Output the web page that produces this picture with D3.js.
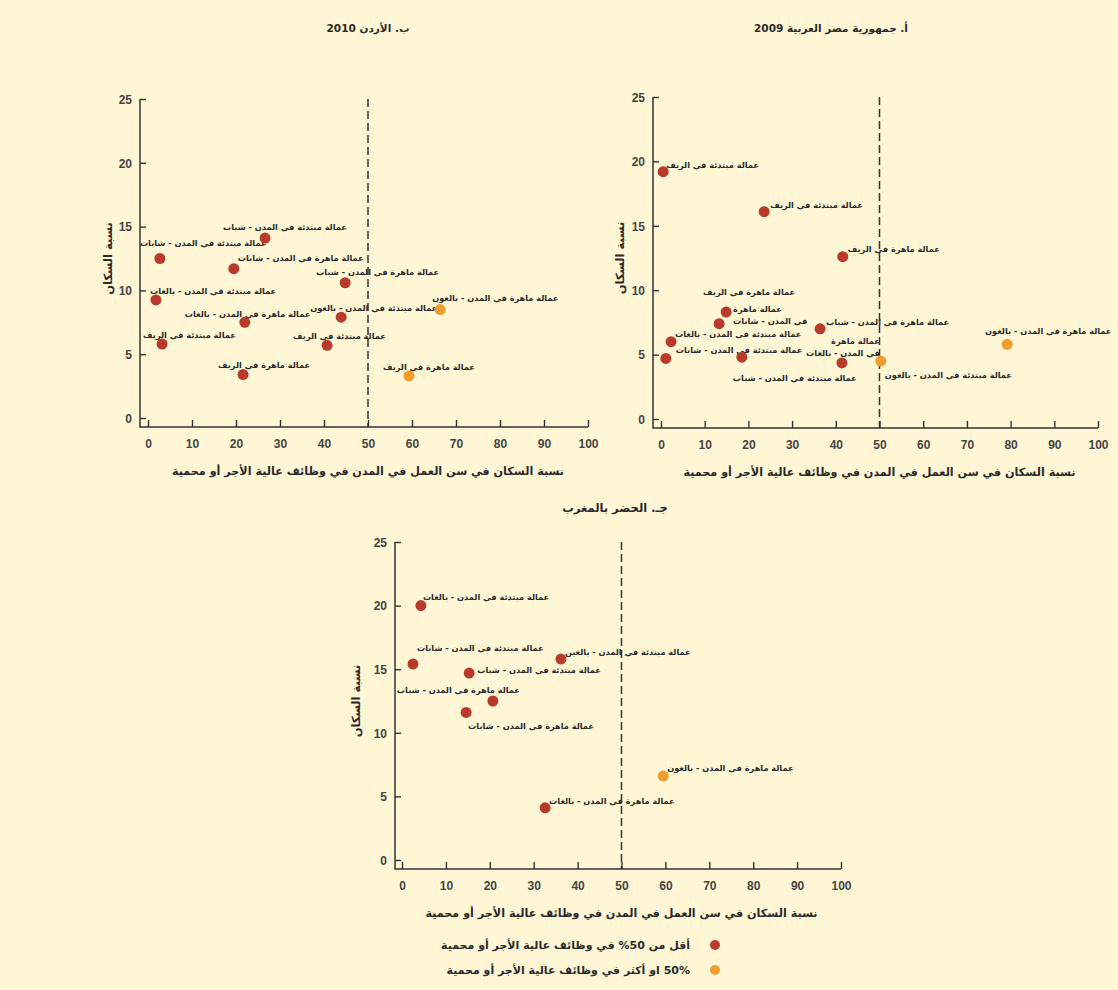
<!DOCTYPE html>
<html>
<head>
<meta charset="utf-8">
<script src="https://cdn.jsdelivr.net/npm/d3@7"></script>
<style>
  body { margin: 0; background: #fff6d5; }
  svg { display: block; }
  .tick text { font-family: "Liberation Sans", Arial, sans-serif; font-size: 12px; font-weight: bold; fill: #444; }
  .tick line { stroke: #333; stroke-width: 1.4; }
  .ar { font-family: "DejaVu Sans", sans-serif; font-weight: bold; fill: #2a2a2a; }
</style>
</head>
<body>
<div id="chart"></div>
<script>
// ---- data ----
var xTicks = [0, 10, 20, 30, 40, 50, 60, 70, 80, 90, 100];
var yTicks = [0, 5, 10, 15, 20, 25];

// أ. مصر 2009
var egyptX = [0.5, 23.6, 41.6, 14.9, 13.3, 2.3, 1.1, 18.5, 36.4, 41.4, 50.3, 79.2];
var egyptY = [19.2, 16.1, 12.6, 8.3, 7.4, 6.0, 4.7, 4.8, 7.0, 4.35, 4.5, 5.8];
var egyptLabels = [
  "عمالة مبتدئة في الريف",
  "عمالة مبتدئة في الريف",
  "عمالة ماهرة في الريف",
  "عمالة ماهرة\nفي المدن - شابات",
  "عمالة ماهرة في الريف",
  "عمالة مبتدئة في المدن - بالغات",
  "عمالة مبتدئة في المدن - شابات",
  "عمالة مبتدئة في المدن - شباب",
  "عمالة ماهرة في المدن - شباب",
  "عمالة ماهرة\nفي المدن - بالغات",
  "عمالة مبتدئة في المدن - بالغون",
  "عمالة ماهرة في المدن - بالغون"
];

// ب. الأردن 2010
var jordanX = [26.6, 2.7, 19.5, 1.8, 22.0, 3.2, 44.8, 43.9, 40.7, 66.4, 59.3, 21.6];
var jordanY = [14.1, 12.5, 11.7, 9.25, 7.5, 5.8, 10.6, 7.9, 5.7, 8.5, 3.3, 3.4];
var jordanLabels = [
  "عمالة مبتدئة في المدن - شباب",
  "عمالة مبتدئة في المدن - شابات",
  "عمالة ماهرة في المدن - شابات",
  "عمالة مبتدئة في المدن - بالغات",
  "عمالة ماهرة في المدن - بالغات",
  "عمالة مبتدئة في الريف",
  "عمالة ماهرة في المدن - شباب",
  "عمالة مبتدئة في المدن - بالغون",
  "عمالة مبتدئة في الريف",
  "عمالة ماهرة في المدن - بالغون",
  "عمالة ماهرة في الريف",
  "عمالة ماهرة في الريف"
];

// جـ. الحضر بالمغرب
var moroccoX = [4.3, 2.5, 15.3, 36.2, 20.7, 14.6, 59.5, 32.6];
var moroccoY = [20.0, 15.4, 14.7, 15.8, 12.5, 11.6, 6.6, 4.1];
var moroccoLabels = [
  "عمالة مبتدئة في المدن - بالغات",
  "عمالة مبتدئة في المدن - شابات",
  "عمالة مبتدئة في المدن - شباب",
  "عمالة مبتدئة في المدن - بالغين",
  "عمالة ماهرة في المدن - شباب",
  "عمالة ماهرة في المدن - شابات",
  "عمالة ماهرة في المدن - بالغون",
  "عمالة ماهرة في المدن - بالغات"
];

var legendLabels = [
  "أقل من 50% في وظائف عالية الأجر أو محمية",
  "50% او أكثر في وظائف عالية الأجر أو محمية"
];
var threshold = 50;

// ---- label placement (pixels from the point: dx, dy, which edge sits at dx) ----
var egyptPlace = [[3,-7,"L"],[6,-7,"L"],[5,-8,"L"],[7,-3,"L"],[-16,-32,"L"],[4,-8,"L"],
                  [10,-8,"L"],[-9,21,"L"],[6,-7,"L"],[38,-22,"R"],[4,14,"L"],[-22,-13,"L"]];
var jordanPlace = [[-42,-11,"L"],[-20,-15,"L"],[4,-11,"L"],[-6,-9,"L"],[-60,-8,"L"],[-19,-9,"L"],
                   [-29,-11,"L"],[-31,-9,"L"],[-34,-9,"L"],[-8,-11,"L"],[-26,-9,"L"],[-25,-9,"L"]];
var moroccoPlace = [[2,-8,"L"],[4,-16,"L"],[8,-3,"L"],[4,-7,"L"],[-96,-11,"L"],[2,14,"L"],[4,-8,"L"],[4,-7,"L"]];

var width = 1118, height = 990;
var red = "#b93a2b", orange = "#ef9d2e";
var xTitle = "نسبة السكان في سن العمل في المدن في وظائف عالية الأجر أو محمية";
var yTitle = "نسبة السكان";

var svg = d3.select("#chart").append("svg")
  .attr("width", width)
  .attr("height", height);

svg.append("rect").attr("width", width).attr("height", height).attr("fill", "#fff6d5");

var panels = [
  { title: "ب. الأردن 2010", xs: jordanX, ys: jordanY, labels: jordanLabels, place: jordanPlace,
    x0: 148, x1: 588, yTop: 99, yBot: 418, axisY: 427, axisX: 140, titleX: 368, titleY: 28, yTitleX: 108 },
  { title: "أ. جمهورية مصر العربية 2009", xs: egyptX, ys: egyptY, labels: egyptLabels, place: egyptPlace,
    x0: 661, x1: 1098, yTop: 97, yBot: 419, axisY: 428, axisX: 653, titleX: 831, titleY: 28, yTitleX: 620 },
  { title: "جـ. الحضر بالمغرب", xs: moroccoX, ys: moroccoY, labels: moroccoLabels, place: moroccoPlace,
    x0: 402, x1: 841, yTop: 542, yBot: 860, axisY: 869, axisX: 395, titleX: 615, titleY: 508, yTitleX: 356, big: true }
];

panels.forEach(function (p) {
  var x = d3.scaleLinear().domain([0, 100]).range([p.x0, p.x1]);
  var y = d3.scaleLinear().domain([0, 25]).range([p.yBot, p.yTop]);
  var g = svg.append("g");

  // axes
  g.append("g")
    .attr("transform", "translate(0," + p.axisY + ")")
    .call(d3.axisBottom(x).tickValues(xTicks).tickSize(-7).tickPadding(12))
    .call(function (a) { a.select(".domain").remove(); });
  g.append("g")
    .attr("transform", "translate(" + p.axisX + ",0)")
    .call(d3.axisLeft(y).tickValues(yTicks).tickSize(-6).tickPadding(8))
    .call(function (a) { a.select(".domain").remove(); })
    .selectAll("text").attr("dy", "0.35em");

  g.append("path")
    .attr("d", "M" + p.axisX + "," + y(25) + "V" + p.axisY + "H" + x(100))
    .attr("fill", "none").attr("stroke", "#333").attr("stroke-width", 1.5);

  // 50% line
  g.append("line")
    .attr("x1", x(threshold)).attr("x2", x(threshold))
    .attr("y1", y(25)).attr("y2", p.axisY)
    .attr("stroke", "#333").attr("stroke-width", 1.5)
    .attr("stroke-dasharray", "8,4");

  // titles
  g.append("text").attr("class", "ar")
    .attr("x", p.titleX).attr("y", p.titleY).attr("dy", "0.35em")
    .attr("direction", "rtl").attr("text-anchor", "middle")
    .style("font-size", p.big ? "11.5px" : "10.5px")
    .text(p.title);
  g.append("text").attr("class", "ar")
    .attr("x", (p.x0 + p.x1) / 2).attr("y", p.axisY + 44).attr("dy", "0.35em")
    .attr("direction", "rtl").attr("text-anchor", "middle")
    .style("font-size", "11.2px")
    .text(xTitle);
  g.append("text").attr("class", "ar")
    .attr("transform", "translate(" + p.yTitleX + "," + (p.yTop + p.yBot) / 2 + ") rotate(-90)")
    .attr("dy", "0.35em")
    .attr("direction", "rtl").attr("text-anchor", "middle")
    .style("font-size", "11.5px")
    .text(yTitle);

  var pts = p.xs.map(function (v, i) { return { x: v, y: p.ys[i], label: p.labels[i], place: p.place[i] }; });

  // labels
  pts.forEach(function (d) {
    var lines = d.label.split("\n");
    var t = g.append("text").attr("class", "ar")
      .attr("direction", "rtl")
      .attr("text-anchor", d.place[2] === "L" ? "end" : "start")
      .style("font-size", "8.2px");
    lines.forEach(function (ln, k) {
      t.append("tspan")
        .attr("x", x(d.x) + d.place[0])
        .attr("y", y(d.y) + d.place[1] + k * 12)
        .attr("dy", "0.35em")
        .text(ln);
    });
  });

  // points
  g.selectAll("circle.pt")
    .data(pts)
    .enter().append("circle")
    .attr("class", "pt")
    .attr("cx", function (d) { return x(d.x); })
    .attr("cy", function (d) { return y(d.y); })
    .attr("r", 5.5)
    .attr("fill", function (d) { return d.x >= threshold ? orange : red; });
});

// legend
var legend = svg.append("g");
legendLabels.forEach(function (txt, i) {
  legend.append("circle")
    .attr("cx", 715).attr("cy", 945 + i * 25).attr("r", 5)
    .attr("fill", i === 0 ? red : orange);
  legend.append("text").attr("class", "ar")
    .attr("x", 690).attr("y", 945 + i * 25).attr("dy", "0.35em")
    .attr("direction", "rtl").attr("text-anchor", "start")
    .style("font-size", "11px")
    .text(txt);
});
</script>
</body>
</html>
